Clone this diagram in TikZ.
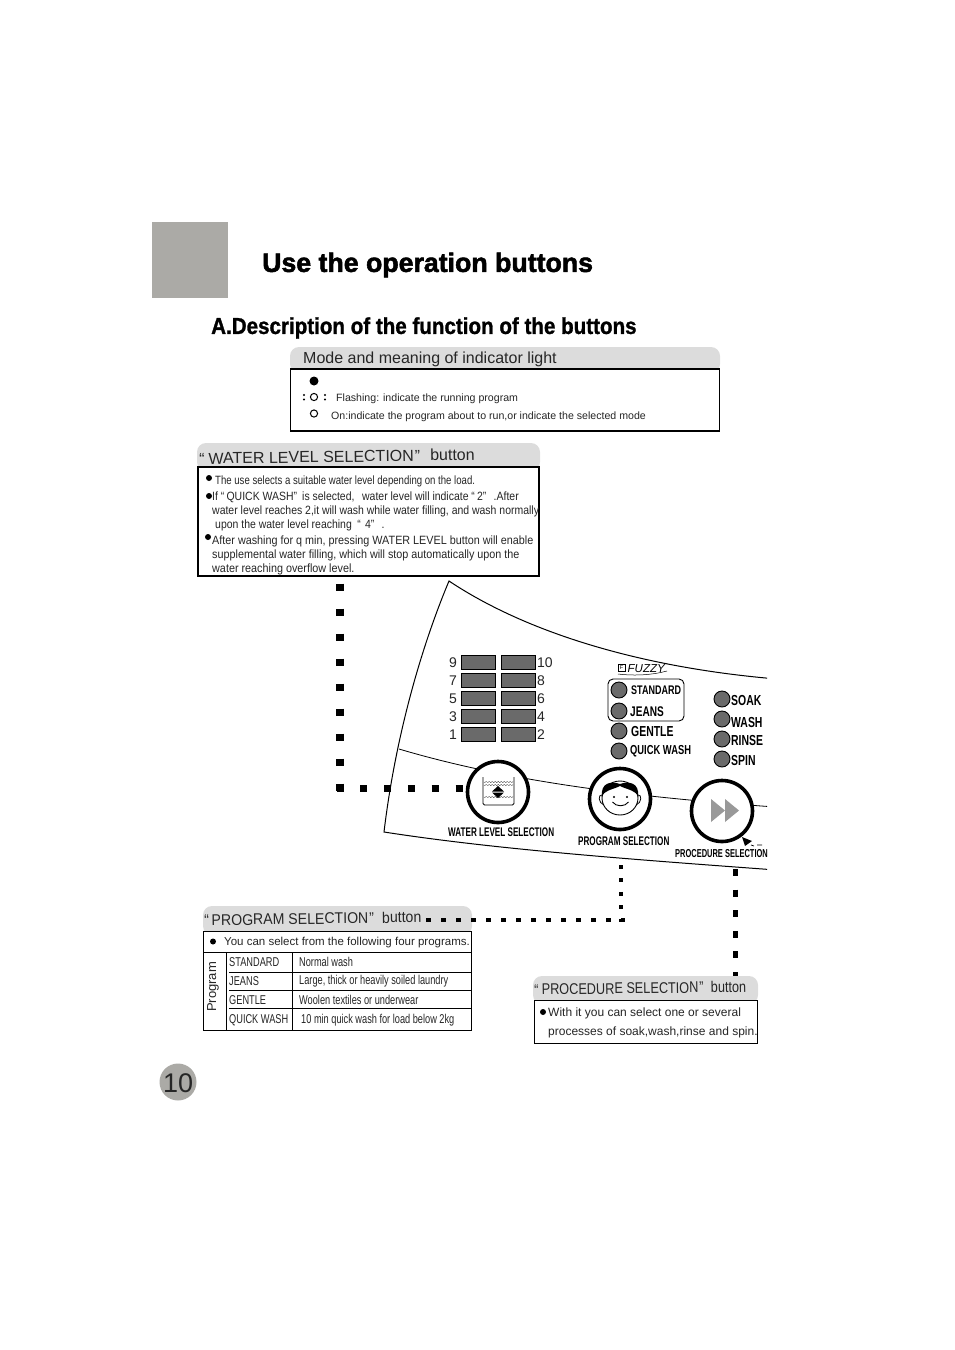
\documentclass[tikz,border=0pt]{standalone}
\usepackage{graphicx}
\usepackage{fontspec}
\setmainfont{Liberation Sans}
\newfontfamily\condfont[FakeStretch=0.8]{Liberation Sans}
\newfontfamily\narrowfont[FakeStretch=0.72]{Liberation Sans}
\newfontfamily\captionfont[FakeStretch=0.65]{Liberation Sans}
\newfontfamily\heavyfont[BoldFeatures={FakeBold=2}]{Liberation Sans}
\newfontfamily\sectionfont[FakeStretch=0.895,BoldFeatures={FakeBold=1.2}]{Liberation Sans}
\definecolor{tabgray}{HTML}{DCDCDC}
\definecolor{ledgray}{HTML}{6A6A6A}
\definecolor{boxgray}{HTML}{ABAAA6}
\tikzset{
 txt/.style={anchor=west,inner sep=0pt,text=black!85,font=\fontsize{#1}{#1}\selectfont},
 small/.style={anchor=west,inner sep=0pt,text=black!85,font=\condfont\fontsize{12}{12}\selectfont},
 cell/.style={anchor=west,inner sep=0pt,text=black!85,font=\narrowfont\fontsize{#1}{13}\selectfont},
 panel/.style={anchor=west,inner sep=0pt,font=\narrowfont\bfseries\fontsize{#1}{12}\selectfont},
 caption/.style={anchor=west,inner sep=0pt,font=\captionfont\bfseries\fontsize{#1}{12}\selectfont},
 tab/.style={fill=tabgray,rounded corners=9pt},
 framebox/.style={draw=black,line width=1.2pt,fill=white},
 led/.style={draw=black,fill=ledgray,line width=.9pt},
 ledbar/.style={draw=black,fill=ledgray,line width=1.4pt},
 btn/.style={draw=black,fill=white,line width=3.6pt},
 dots/.style={line width=7.5pt,dash pattern=on 7.5pt off 17.5pt}
}
\begin{document}
\begin{tikzpicture}[x=1pt,y=-1pt,line cap=butt,line join=miter,>=stealth]
 \useasboundingbox (0,0) rectangle (954,1350);
 % heading
 \fill[boxgray](152,222)rectangle(228,298);
 \node[anchor=west,inner sep=0pt,font=\heavyfont\bfseries\fontsize{26.7}{27}\selectfont,text=black] (title) at (262,265) {Use the operation buttons};
 \node[anchor=west,inner sep=0pt,font=\sectionfont\bfseries\fontsize{23}{23}\selectfont,text=black] (section) at (211,328) {A.Description of the function of the buttons};
 % indicator box
 \fill[tab](290,373)--(290,347)--(720,347)--(720,373)--cycle;
 \draw[framebox](290.5,369)rectangle(719.5,431);
 \node[txt=16] (modehead) at (303,359) {Mode and meaning of indicator light};
 \fill(314,381)circle(4.5);
 \draw[line width=1pt](314,397)circle(3.6)(314,413.5)circle(3.6);
 \foreach \x in{304,325}
  \fill(\x,395)circle(1.2)(\x,399.5)circle(1.2);
 \node[txt=10.6] (flash) at (336,398.5) {Flashing: indicate the running program};
 \node[txt=10.6] (on) at (331,417) {On:indicate the program about to run,or indicate the selected mode};
 % water level box
 \fill[tab](197,471)--(197,443)--(540,443)--(540,471)--cycle;
 \draw[framebox](198,467)rectangle(539,576);
 \node[txt=16,rotate=.8] (waterhead) at (199,458.5) {“\hspace{4pt}WATER LEVEL SELECTION\hspace{1pt}”\hspace{10pt}{\fontsize{16}{16}\selectfont button}};
 \foreach \n/\x/\y/\s/\t in{a/215/481/1/The use selects a suitable water level depending on the load.,
  b/212/497/1.09/{If “\,QUICK WASH”\, is selected,\hspace{7pt}water level will indicate “\,2”\,\, .After},
  c/212/511/1.09/{water level reaches 2,it will wash while water filling, and wash normally},
  d/215/525/1.09/upon the water level reaching\hspace{5pt}“\,\,4”\,\, .,
  e/212/541/1.125/{After washing for q min, pressing WATER LEVEL button will enable},
  f/212/555/1.125/{supplemental water filling, which will stop automatically upon the},
  g/212/569/1.125/water reaching overflow level.}
  \node[small] (water\n) at (\x,\y) {\scalebox{\s}[1]{\t}};
 \foreach \x/\y in{209/478,209/496,208/537}
  \fill(\x,\y)circle(3);
 % control panel
 \begin{scope}
 \clip(370,570)rectangle(767,880);
 \draw[line width=1pt,fill=white](449,581)..controls(530,635) and (650,670)..(790,680)--(790,871)..controls(640,860) and (500,850)..(384,832)..controls(395,740) and (420,650)..cycle;
 \draw[line width=.8pt](399,749)..controls(510,782) and (640,798)..(790,808);
 \coordinate (lefttop) at (340,583.5);
 \coordinate (leftcorner) at (340,791);
 \coordinate (watercorner) at (336.5,788);
 \coordinate (waterend) at (463,788);
 \draw[btn](498,792)circle(30.5);
 \draw[btn](620,799)circle(30.5);
 \draw[btn](722,811)circle(30.5);
 \end{scope}
 % leds
 \foreach \y/\l/\r in{655/9/10,673/7/8,691/5/6,709/3/4,727/1/2}{
  \draw[ledbar](461.5,\y+.5)rectangle(495.5,\y+14.5);
  \draw[ledbar](501.5,\y+.5)rectangle(535.5,\y+14.5);
  \node[txt=14,anchor=east] (num\l) at (457,\y+8) {\l};
  \node[txt=14] (num\r) at (537,\y+8) {\r};
 }
 % fuzzy logo
 \node[draw,line width=.4pt,minimum width=6.5pt,minimum height=7pt,inner sep=0pt,font=\fontsize{5.5}{6}\selectfont] (fbox) at (621.5,668) {F};
 \node[anchor=west,inner sep=0pt,font=\itshape\fontsize{11.5}{12}\selectfont] (fuzzy) at (627.5,669) {FUZZY};
 \draw[line width=.5pt](618,674)..controls(635,676) and (652,675)..(667,671);
 % program selectors
 \draw[line width=.9pt,rounded corners=5pt](608,679)rectangle(684,721);
 \foreach \n/\y/\xx/\t/\s in{st/690/631/STANDARD/12.5,je/711/630/JEANS/14,ge/731/631/GENTLE/14.5,qw/751/630/QUICK WASH/13}{
  \draw[led](619,\y)circle(8);
  \node[panel=\s] (prog\n) at (\xx,\y+.5) {\t};
 }
 \foreach \n/\y/\ty/\t in{so/699/700/SOAK,wa/719/722/WASH,ri/739/740/RINSE,sp/759/760/SPIN}{
  \draw[led](722,\y)circle(8);
  \node[panel=14.5] (proc\n) at (731,\ty) {\t};
 }
 % water icon
 \draw[line width=.8pt,rounded corners=1.5pt](483,777)--(483,805)--(514,805)--(514,777);
 \foreach \wy in{782,785,797}
  \draw[line width=.3pt,domain=0:29,samples=60] plot(484+\x,{\wy+.6*sin(120*\x)});
 \fill(498,786)--(504,791.5)--(492,791.5)--cycle;
 \fill(498,798)--(504,792.5)--(492,792.5)--cycle;
 % face
 \draw[line width=.9pt](620,798)ellipse(18 and 17);
 \fill(602,797)..controls(600,782) and (612,781)..(620,784)..controls(628,781) and (640,782)..(638,797)..controls(636,790) and (628,790)..(620,786)..controls(612,790) and (604,790)..cycle;
 \draw[line width=.8pt](602,795)..controls(598,794) and (598,803)..(604,805)(638,795)..controls(642,794) and (642,803)..(636,805);
 \fill(614,797)circle(1.1)(627,797)circle(1.1);
 \draw[line width=.9pt](612.5,802)..controls(616,807) and (625,807)..(628.5,802);
 % procedure icon
 \fill[black!40](711,799)--(725,810.5)--(711,822)--cycle;
 \fill[black!40](725,799)--(739,810.5)--(725,822)--cycle;
 \fill(742,837)--(752,841)--(745,846)--cycle;
 \draw[line width=.7pt](751,845)--(754,846)(757,845)--(762,845);
 % panel captions
 \node[caption=12.5] (cap1) at (448,832.5) {WATER LEVEL SELECTION};
 \node[caption=12.5] (cap2) at (578,841.5) {PROGRAM SELECTION};
 \node[caption=11.5] (cap3) at (675,853.5) {PROCEDURE SELECTION};
 % dotted leaders
 \draw[dots](lefttop)--(leftcorner);
 \draw[line width=7pt,dash pattern=on 7pt off 16.8pt](watercorner)--(waterend);
 \coordinate (progstart) at (426,920);
 \coordinate (progcorner) at (625,920);
 \coordinate (progtop) at (621,865);
 \coordinate (progdown) at (621,922);
 \coordinate (proctop) at (735,869);
 \coordinate (procend) at (735,979);
 \draw[line width=4pt,dash pattern=on 4pt off 9.4pt](progtop)--(progdown);
 \draw[line width=5pt,dash pattern=on 7pt off 13.6pt](proctop)--(procend);
 % program box
 \fill[tab](203,935)--(203,906)--(472,906)--(472,935)--cycle;
 \draw[line width=4.5pt,dash pattern=on 4.5pt off 10.5pt](progstart)--(progcorner);
 \node[txt=15.5,rotate=.8] (proghead) at (204,920) {\scalebox{.91}[1]{“\hspace{3pt}PROGRAM SELECTION\hspace{1pt}”\hspace{9pt}button}};
 \draw[fill=white,line width=.9pt](203,931)rectangle(471.5,1030);
 \draw[line width=.9pt](203,952)--(471.5,952)(226,952)--(226,1030)(292,952)--(292,1030);
 \draw[line width=.7pt](229,972)--(471.5,972)(229,990)--(471.5,990)(229,1008)--(471.5,1008);
 \fill(213,941.5)circle(3);
 \node[txt=11.5] (progintro) at (224,943) {You can select from the following four programs.};
 \node[txt=13,rotate=90] (progside) at (213,1012) {Program};
 \foreach \n/\y/\x/\a/\b in{1/962/299/STANDARD/Normal wash,2/981/299/JEANS/{Large, thick or heavily soiled laundry},3/1000/299/GENTLE/Woolen textiles or underwear,4/1020/301/QUICK WASH/10 min quick wash for load below 2kg}{
  \node[cell=12.8] (proga\n) at (229,\y) {\a};
  \node[cell=12.8] (progb\n) at (\x,\y) {\b};
 }
 % procedure box
 \fill[tab](533,1004)--(533,976)--(758,976)--(758,1004)--cycle;
 \node[txt=15.5,rotate=.8] (prochead) at (534,989.5) {\scalebox{.82}[1]{“\hspace{4pt}PROCEDURE SELECTION\hspace{1pt}”\hspace{9pt}button}};
 \draw[fill=white,line width=.9pt](534,1000)rectangle(757.5,1043);
 \fill(543,1012)circle(3);
 \node[txt=12] (procl1) at (548,1013.5) {With it you can select one or several};
 \node[txt=12] (procl2) at (548,1032) {processes of soak,wash,rinse and spin.};
 % page number
 \fill[boxgray](178,1082)circle(18.5);
 \node[txt=27] (pagenum) at (163,1083) {10};
\end{tikzpicture}
\end{document}
